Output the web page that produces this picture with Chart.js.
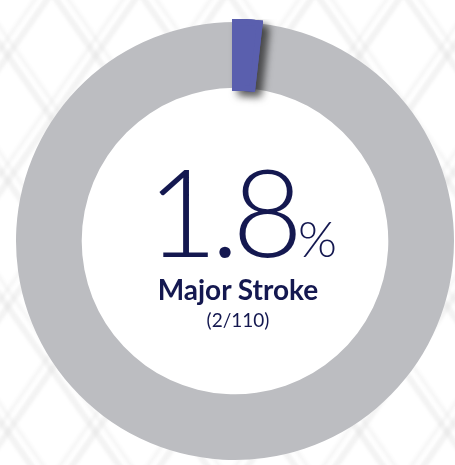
<!DOCTYPE html>
<html>
<head>
<meta charset="utf-8">
<script src="https://cdn.jsdelivr.net/npm/chart.js@4"></script>
<style>
  html, body { margin: 0; padding: 0; }
  body { width: 455px; height: 465px; overflow: hidden; position: relative; background: #ffffff; }
  /* faint mesh behind the ring */
  #mesh {
    position: absolute; left: -20px; top: -20px; width: 495px; height: 505px;
    background-image:
      repeating-linear-gradient(55deg, transparent 0 50px, rgba(215,215,215,0.3) 50px 56px, transparent 56px 61px, rgba(225,225,225,0.28) 61px 65px, transparent 65px 72px),
      repeating-linear-gradient(-55deg, transparent 0 50px, rgba(215,215,215,0.3) 50px 56px, transparent 56px 61px, rgba(225,225,225,0.28) 61px 65px, transparent 65px 72px);
    filter: blur(1.5px);
  }
  #chartBox { position: absolute; left: 13px; top: 19px; width: 444px; height: 444px; }
  .center-text { position: absolute; left: 0; width: 476px; text-align: center; color: #141850; font-family: Lato, "Open Sans", sans-serif; line-height: 1; white-space: nowrap; }
  #pct { top: 149px; font-size: 122px; font-weight: 300; letter-spacing: -7px; padding-left: 8px; box-sizing: border-box; }
  #pct span { font-size: 50px; font-weight: 300; letter-spacing: 0; margin-left: 2px; }
  #label { top: 275px; font-size: 28px; font-weight: 700; }
  #sub { top: 310px; font-size: 19px; font-weight: 400; }
</style>
</head>
<body>
<div id="mesh"></div>
<div id="chartBox"><canvas id="strokeChart"></canvas></div>
<div class="center-text" id="pct">1.8<span>%</span></div>
<div class="center-text" id="label">Major Stroke</div>
<div class="center-text" id="sub">(2/110)</div>

<script>
// data
const LABELS = ['Major Stroke', 'No Major Stroke'];
const VALUES = [1.8, 98.2];
const COLORS = ['#5a5fae', '#bcbdc1'];

// white disc in the hole so the mesh only shows outside the ring
const holeFill = {
    id: 'holeFill',
    beforeDatasetsDraw(chart) {
        const arc = chart.getDatasetMeta(0).data[1];
        if (!arc) return;
        const ctx = chart.ctx;
        ctx.save();
        ctx.fillStyle = '#ffffff';
        ctx.beginPath();
        ctx.arc(arc.x, arc.y, arc.innerRadius + 1, 0, Math.PI * 2);
        ctx.fill();
        ctx.restore();
    }
};

// drop shadow under the small segment, then paint the segment clean on top
const segmentShadow = {
    id: 'segmentShadow',
    afterDatasetDraw(chart) {
        const arc = chart.getDatasetMeta(0).data[0];
        const ctx = chart.ctx;
        ctx.save();
        ctx.shadowColor = 'rgba(0,0,0,0.6)';
        ctx.shadowBlur = 9;
        ctx.shadowOffsetX = 6;
        ctx.shadowOffsetY = 5;
        arc.draw(ctx);
        ctx.restore();
        ctx.save();
        arc.draw(ctx);
        ctx.restore();
    }
};

new Chart(document.getElementById('strokeChart'), {
    type: 'doughnut',
    data: {
        labels: LABELS,
        datasets: [{
            data: VALUES,
            backgroundColor: COLORS,
            borderColor: COLORS,
            borderWidth: [6, 0],
            borderJoinStyle: 'miter',
        }]
    },
    options: {
        responsive: true, maintainAspectRatio: false, animation: false,
        cutout: '70%',
        layout: { padding: 0 },
        plugins: { legend: { display: false }, tooltip: { enabled: false } }
    },
    plugins: [holeFill, segmentShadow]
});
</script>
</body>
</html>
